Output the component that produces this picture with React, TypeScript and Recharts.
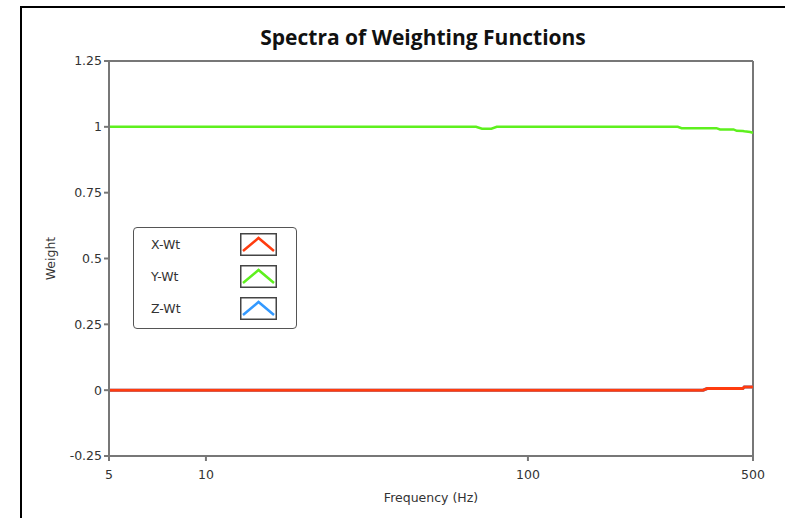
import { LineChart, Line, XAxis, YAxis, ReferenceLine, Legend } from "recharts"

const freqHz = [5, 50, 69, 72, 77, 80, 200, 292, 300, 350, 360, 385, 395, 435, 445, 465, 470, 490, 500]
const xWt = [0, 0, 0, 0, 0, 0, 0, 0, 0, 0, 0.006, 0.006, 0.006, 0.006, 0.006, 0.006, 0.012, 0.012, 0.012]
const yWt = [1, 1, 1, 0.993, 0.993, 1, 1, 1, 0.995, 0.995, 0.995, 0.995, 0.99, 0.99, 0.985, 0.984, 0.983, 0.98, 0.977]
const zWt = [0, 0, 0, 0, 0, 0, 0, 0, 0, 0, 0.006, 0.006, 0.006, 0.006, 0.006, 0.006, 0.012, 0.012, 0.012]

const xTicks = [5, 10, 100, 500]
const yTicks = [-0.25, 0, 0.25, 0.5, 0.75, 1, 1.25]
const seriesOrder = ["X-Wt", "Y-Wt", "Z-Wt"]

const data = freqHz.map((f, i) => ({ f, x: xWt[i], y: yWt[i], z: zWt[i] }))

const tickFont = { fontFamily: "'DejaVu Sans'", fontSize: 12.5, fill: "#333" }

function Chevron({ color }: { color: string }) {
  return (
    <svg width={37} height={23} style={{ display: "block" }}>
      <rect x={0.75} y={0.75} width={35.5} height={21.5} fill="#fff" stroke="#444" strokeWidth={1.5} />
      <polyline points="3,18 18.5,5 34,18" fill="none" stroke={color} strokeWidth={2.5} />
    </svg>
  )
}

function LegendBox({ payload }: any) {
  const items = [...(payload || [])].sort(
    (a: any, b: any) => seriesOrder.indexOf(a.value) - seriesOrder.indexOf(b.value)
  )
  return (
    <div
      style={{
        width: 164,
        height: 102,
        border: "1.5px solid #555",
        borderRadius: 4,
        background: "#fff",
        boxSizing: "border-box",
        paddingTop: 0,
      }}
    >
      {items.map((it: any) => (
        <div key={it.value} style={{ display: "flex", alignItems: "center", height: 32 }}>
          <span style={{ fontFamily: "'DejaVu Sans'", fontSize: 12.5, color: "#333", width: 89, paddingLeft: 17 }}>{it.value}</span>
          <Chevron color={it.color} />
        </div>
      ))}
    </div>
  )
}

export default function App() {
  return (
    <div style={{ position: "absolute", left: 0, top: 0, width: 785, height: 518, overflow: "hidden", background: "#fff" }}>
      <div
        style={{
          position: "absolute",
          left: 20,
          top: 6,
          width: 800,
          height: 600,
          borderLeft: "2px solid #000",
          borderTop: "2px solid #000",
        }}
      />
      <div
        style={{
          position: "absolute",
          left: 101,
          width: 644,
          top: 23,
          textAlign: "center",
          fontFamily: "'Open Sans'",
          fontWeight: 700,
          fontSize: 21,
          color: "#111",
        }}
      >
        Spectra of Weighting Functions
      </div>
      <div style={{ position: "absolute", left: 0, top: 0 }}>
        <LineChart width={785} height={518} data={data} margin={{ top: 61, right: 32, bottom: 12, left: 60 }}>
          <XAxis
            dataKey="f"
            type="number"
            scale="log"
            domain={[5, 500]}
            ticks={xTicks}
            allowDataOverflow
            stroke="#777"
            strokeWidth={2}
            tickSize={5}
            tickMargin={9}
            height={50}
            tick={tickFont}
            label={{
              value: "Frequency (Hz)",
              position: "insideBottom",
              offset: 4,
              style: { ...tickFont, fill: "#333" },
            }}
          />
          <YAxis
            type="number"
            domain={[-0.25, 1.25]}
            ticks={yTicks}
            width={49}
            stroke="#777"
            strokeWidth={2}
            tickSize={5}
            tickMargin={2}
            tick={tickFont}
            label={{
              value: "Weight",
              angle: -90,
              position: "insideLeft",
              offset: -9,
              style: { ...tickFont, textAnchor: "middle" },
            }}
          />
          <ReferenceLine y={1.25} stroke="#777" strokeWidth={2} ifOverflow="extendDomain" />
          <ReferenceLine x={500} stroke="#777" strokeWidth={2} />
          <Legend
            layout="horizontal"
            verticalAlign="middle"
            content={<LegendBox />}
            wrapperStyle={{ left: 133, top: 227, width: 164, height: 102 }}
          />
          <Line name="Z-Wt" dataKey="z" stroke="#3399ff" strokeWidth={3} dot={false} isAnimationActive={false} />
          <Line name="Y-Wt" dataKey="y" stroke="#5ef01e" strokeWidth={2.5} dot={false} isAnimationActive={false} />
          <Line name="X-Wt" dataKey="x" stroke="#ff3c0f" strokeWidth={3} dot={false} isAnimationActive={false} />
        </LineChart>
      </div>
    </div>
  )
}
